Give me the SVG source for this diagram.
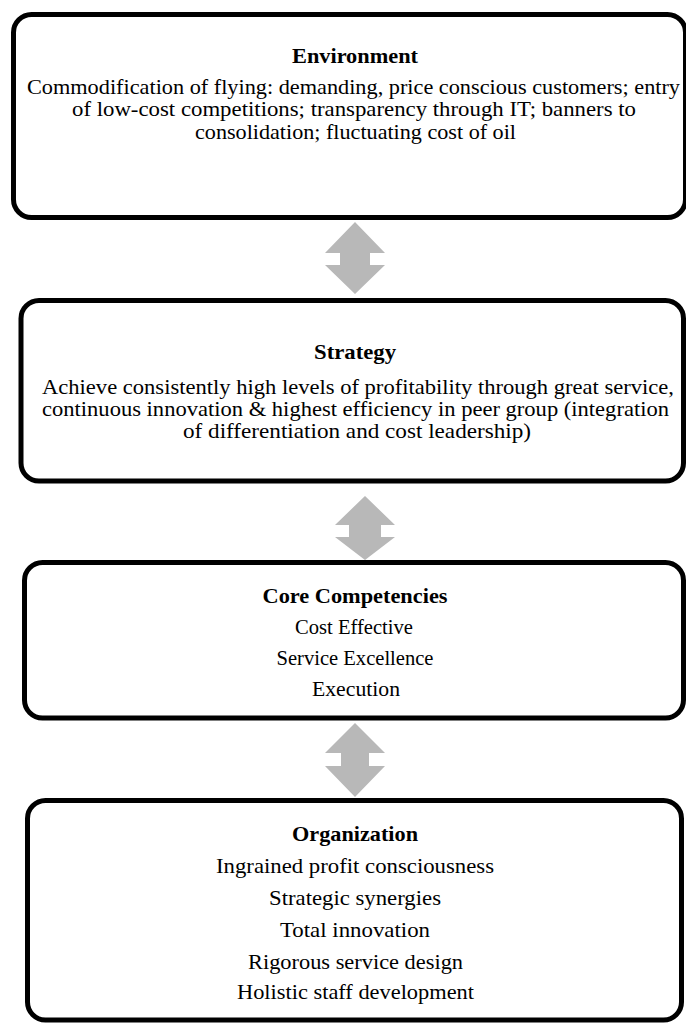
<svg xmlns="http://www.w3.org/2000/svg" width="686" height="1023" viewBox="0 0 686 1023">
<style>
.box{fill:#ffffff;stroke:#000000;stroke-width:5}
.arr{fill:#b8b8b8;stroke:none}
text{font-family:"Liberation Serif","Times New Roman",serif;font-size:21px;fill:#000000;text-anchor:middle}
.t{font-weight:bold}
</style>
<rect width="686" height="1023" fill="#ffffff"/>
<g id="connectors">
<path class="arr" d="M355,222 L385,253 L370,253 L370,265 L385,265 L355,294 L325,265 L340,265 L340,253 L325,253 Z"/>
<path class="arr" d="M365,496 L395,525 L381,525 L381,537 L395,537 L365,560 L335,537 L349,537 L349,525 L335,525 Z"/>
<path class="arr" d="M355,723 L385,753 L369,753 L369,766 L385,766 L355,797 L325,766 L341,766 L341,753 L325,753 Z"/>
</g>
<g id="environment">
<rect class="box" x="13.5" y="14.5" width="672" height="203" rx="18"/>
<text class="t" x="355" y="63" textLength="126" lengthAdjust="spacingAndGlyphs">Environment</text>
<text x="353.5" y="94" textLength="653" lengthAdjust="spacingAndGlyphs">Commodification of flying: demanding, price conscious customers; entry</text>
<text x="354" y="116" textLength="564" lengthAdjust="spacingAndGlyphs">of low-cost competitions; transparency through IT; banners to</text>
<text x="355.5" y="139" textLength="321" lengthAdjust="spacingAndGlyphs">consolidation; fluctuating cost of oil</text>
</g>
<g id="strategy">
<rect class="box" x="21" y="300.5" width="662.5" height="180.5" rx="18"/>
<text class="t" x="355" y="359" textLength="82" lengthAdjust="spacingAndGlyphs">Strategy</text>
<text x="358" y="394" textLength="632" lengthAdjust="spacingAndGlyphs">Achieve consistently high levels of profitability through great service,</text>
<text x="355.5" y="416" textLength="627" lengthAdjust="spacingAndGlyphs">continuous innovation &amp; highest efficiency in peer group (integration</text>
<text x="357" y="438" textLength="348" lengthAdjust="spacingAndGlyphs">of differentiation and cost leadership)</text>
</g>
<g id="core-competencies">
<rect class="box" x="24.5" y="562.5" width="659" height="155.5" rx="18"/>
<text class="t" x="355" y="603" textLength="185" lengthAdjust="spacingAndGlyphs">Core Competencies</text>
<text x="354" y="634" textLength="118" lengthAdjust="spacingAndGlyphs">Cost Effective</text>
<text x="355" y="665" textLength="157" lengthAdjust="spacingAndGlyphs">Service Excellence</text>
<text x="356" y="696" textLength="88" lengthAdjust="spacingAndGlyphs">Execution</text>
</g>
<g id="organization">
<rect class="box" x="27.5" y="800.5" width="654" height="219.5" rx="18"/>
<text class="t" x="355" y="841" textLength="126" lengthAdjust="spacingAndGlyphs">Organization</text>
<text x="355" y="873" textLength="278" lengthAdjust="spacingAndGlyphs">Ingrained profit consciousness</text>
<text x="355" y="905" textLength="172" lengthAdjust="spacingAndGlyphs">Strategic synergies</text>
<text x="355" y="937" textLength="150" lengthAdjust="spacingAndGlyphs">Total innovation</text>
<text x="355.5" y="969" textLength="215" lengthAdjust="spacingAndGlyphs">Rigorous service design</text>
<text x="355.5" y="999" textLength="237" lengthAdjust="spacingAndGlyphs">Holistic staff development</text>
</g>
</svg>
